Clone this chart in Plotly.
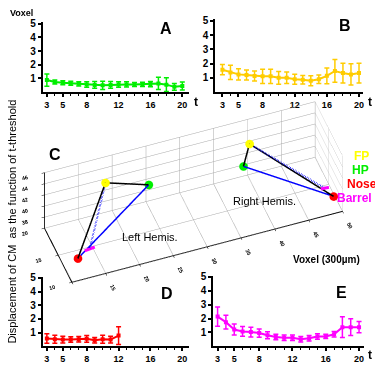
import plotly.graph_objects as go

W, H = 375, 368

# ---- data ----
t_full = list(range(3, 21))
t_d = list(range(3, 13))

a_vals = [0.88, 0.73, 0.68, 0.64, 0.60, 0.55, 0.52, 0.49, 0.52, 0.55, 0.56, 0.55, 0.56, 0.58, 0.63, 0.54, 0.38, 0.44]
a_errs = [0.45, 0.15, 0.15, 0.15, 0.15, 0.2, 0.25, 0.3, 0.25, 0.2, 0.2, 0.15, 0.15, 0.2, 0.45, 0.5, 0.25, 0.3]

b_vals = [1.57, 1.38, 1.24, 1.19, 1.12, 1.10, 1.10, 1.00, 1.00, 0.90, 0.86, 0.80, 0.90, 1.14, 1.48, 1.33, 1.24, 1.33]
b_errs = [0.36, 0.50, 0.40, 0.35, 0.35, 0.50, 0.50, 0.45, 0.40, 0.35, 0.30, 0.35, 0.30, 0.55, 0.80, 0.70, 0.75, 0.70]

d_vals = [0.56, 0.51, 0.49, 0.49, 0.51, 0.54, 0.44, 0.51, 0.49, 0.78]
d_errs = [0.35, 0.30, 0.25, 0.20, 0.20, 0.25, 0.20, 0.30, 0.25, 0.65]

e_vals = [2.14, 1.74, 1.21, 1.07, 1.02, 0.95, 0.79, 0.67, 0.62, 0.62, 0.50, 0.57, 0.71, 0.71, 0.86, 1.38, 1.38, 1.38]
e_errs = [0.70, 0.50, 0.40, 0.35, 0.35, 0.30, 0.25, 0.20, 0.20, 0.20, 0.20, 0.20, 0.20, 0.15, 0.20, 0.75, 0.60, 0.40]

x_ticks = [3, 5, 8, 12, 16, 20]
y_ticks = [1, 2, 3, 4, 5]

# 3D landmark coordinates (voxel x, voxel y, voxel z)
left_fp = [18.2, 18.0, 43.5]
left_hp = [24.6, 18.0, 41.1]
left_nose = [12.1, 13.0, 36.7]
left_barrel = [[13.3, 13.5, 37.2], [14.8, 13.5, 37.4]]
right_fp = [39.9, 19.0, 42.6]
right_hp = [39.0, 19.0, 38.85]
right_nose = [49.5, 12.0, 36.9]
right_barrel = [[47.8, 12.5, 38.3], [49.0, 12.5, 38.2]]

c3_x_ticks = [10, 15, 20, 25, 30, 35, 40, 45, 50]
c3_y_ticks = [10, 15, 20]
c3_z_ticks = [38, 40, 42, 44, 46]

GREEN = "#00ee00"
GOLD = "#ffcc00"
RED = "#ff0000"
MAGENTA = "#ff00ff"
YELLOW = "#ffff00"
FONT = "Liberation Sans, Arial, sans-serif"

fig = go.Figure()


def panel(t, vals, errs, color, xa, ya):
    fig.add_trace(go.Scatter(
        x=t, y=vals, mode="lines+markers",
        line=dict(color=color, width=2),
        marker=dict(color=color, size=4, symbol="square"),
        error_y=dict(type="data", array=errs, color=color, thickness=1.5, width=2.5),
        xaxis=xa, yaxis=ya, showlegend=False, hoverinfo="skip"))


panel(t_full, a_vals, a_errs, GREEN, "x", "y")
panel(t_full, b_vals, b_errs, GOLD, "x2", "y2")
panel(t_d, d_vals, d_errs, RED, "x3", "y3")
panel(t_full, e_vals, e_errs, MAGENTA, "x4", "y4")


def px_dom(a, b, total):
    return [a / total, b / total]


def py_dom(top, bottom):
    return [1 - bottom / H, 1 - top / H]


def xax(dom, rng, anchor):
    return dict(domain=dom, range=rng, anchor=anchor, tickvals=x_ticks,
                showline=True, linecolor="black", linewidth=2, ticks="outside",
                ticklen=3, tickwidth=1.5, tickcolor="black", showgrid=False,
                zeroline=False, tickfont=dict(family=FONT, size=9, color="black", weight="bold"),
                minor=dict(tick0=0, dtick=1, ticks="outside", ticklen=2, tickcolor="black", tickwidth=1),
                fixedrange=True)


def yax(dom, rng, anchor):
    return dict(domain=dom, range=rng, anchor=anchor, tickvals=y_ticks,
                showline=True, linecolor="black", linewidth=2, ticks="outside",
                ticklen=3, tickwidth=1.5, tickcolor="black", showgrid=False,
                zeroline=False, tickfont=dict(family=FONT, size=10, color="black", weight="bold"),
                fixedrange=True)


layout = dict(
    width=W, height=H, margin=dict(l=0, r=0, t=0, b=0),
    paper_bgcolor="white", plot_bgcolor="rgba(0,0,0,0)",
    xaxis=xax(px_dom(43, 190, W), [2.5, 20.9], "y"),
    yaxis=yax(py_dom(18.6, 89), [0, 5.1], "x"),
    xaxis2=xax(px_dom(216, 364, W), [2.13, 20.5], "y2"),
    yaxis2=yax(py_dom(15.6, 89), [0, 5.1], "x2"),
    xaxis3=xax(px_dom(43, 190, W), [2.5, 20.9], "y3"),
    yaxis3=yax(py_dom(275.6, 346), [0, 5.1], "x3"),
    xaxis4=xax(px_dom(214, 365, W), [2.5, 20.6], "y4"),
    yaxis4=yax(py_dom(274.6, 346), [0, 5.1], "x4"),
)
fig.update_layout(**layout)

# ---- 3D panel C ----
def seg(p, q, color, dash="solid", width=3):
    fig.add_trace(go.Scatter3d(
        x=[p[0], q[0]], y=[p[1], q[1]], z=[p[2], q[2]], mode="lines",
        line=dict(color=color, width=width, dash=dash),
        showlegend=False, hoverinfo="skip", scene="scene"))


def pt(p, color, size=5):
    fig.add_trace(go.Scatter3d(
        x=[p[0]], y=[p[1]], z=[p[2]], mode="markers",
        marker=dict(color=color, size=size, line=dict(width=0)),
        showlegend=False, hoverinfo="skip", scene="scene"))


for fp, hp, nose, barrel in [(left_fp, left_hp, left_nose, left_barrel),
                             (right_fp, right_hp, right_nose, right_barrel)]:
    bmid = [(barrel[0][i] + barrel[1][i]) / 2 for i in range(3)]
    seg(fp, hp, "black")
    seg(fp, nose, "black")
    seg(hp, nose, "#0000ff")
    seg(fp, bmid, "#0000ff", dash="dash", width=4)
    seg(barrel[0], barrel[1], MAGENTA, width=6)
    pt(fp, YELLOW)
    pt(hp, GREEN)
    pt(nose, RED)

k = 4.0
d = (-0.238, -0.653, 0.72)
s = 0.8


def ax3(rng, ticks):
    return dict(range=rng, tickvals=ticks, showbackground=False, gridcolor="#a8a8a8",
                gridwidth=1, showline=True, linecolor="black", linewidth=2,
                zeroline=False, title=dict(text=""), showspikes=False,
                tickfont=dict(family=FONT, size=8, color="black", weight="bold"),
                ticks="outside", ticklen=3, tickcolor="black")


fig.update_layout(scene=dict(
    domain=dict(x=[0.034, 1.0], y=[0.209, 0.759]),
    xaxis=ax3([10, 50], c3_x_ticks),
    yaxis=ax3([10, 20], c3_y_ticks),
    zaxis=ax3([36, 46], c3_z_ticks),
    aspectmode="manual", aspectratio=dict(x=3.6 * s, y=1 * s, z=1 * s),
    camera=dict(eye=dict(x=d[0] * k, y=d[1] * k, z=d[2] * k),
                up=dict(x=0, y=0, z=1), center=dict(x=0, y=0, z=0),
                projection=dict(type="orthographic")),
    bgcolor="rgba(0,0,0,0)",
    dragmode=False,
))

# ---- annotations ----
def ann(text, x, y, size, color="black", bold=False, xanchor="center", angle=0):
    fig.add_annotation(text=text, x=x / W, y=1 - y / H, xref="paper", yref="paper",
                       showarrow=False, xanchor=xanchor, yanchor="middle", textangle=angle,
                       font=dict(family=FONT, size=size, color=color,
                                 weight="bold" if bold else "normal"))


ann("A", 166, 25, 16, bold=True)
ann("B", 346, 22, 16, bold=True)
ann("C", 55, 152, 16, bold=True)
ann("D", 167, 293, 16, bold=True)
ann("E", 342, 292, 16, bold=True)
ann("t", 197, 99, 12, bold=True)
ann("t", 371, 99, 12, bold=True)
ann("t", 371, 355, 12, bold=True)
ann("Voxel", 22, 9, 9, bold=True)
ann("Displacement of CM  as the function of t-threshold", 12, 220, 11, angle=-90)
ann("Left Hemis.", 150, 236, 11)
ann("Right Hemis.", 265, 199, 11)
ann("Voxel (300µm)", 327, 258, 10, bold=True)
ann("FP", 362, 154, 12, color=YELLOW, bold=True)
ann("HP", 361, 168, 12, color=GREEN, bold=True)
ann("Nose", 346, 182, 12, color=RED, bold=True, xanchor="left")
ann("Barrel", 375, 196, 12, color=MAGENTA, bold=True, xanchor="right")

fig.write_html("out.html", config={"displayModeBar": False},
               post_script="document.body.style.margin='0';")
